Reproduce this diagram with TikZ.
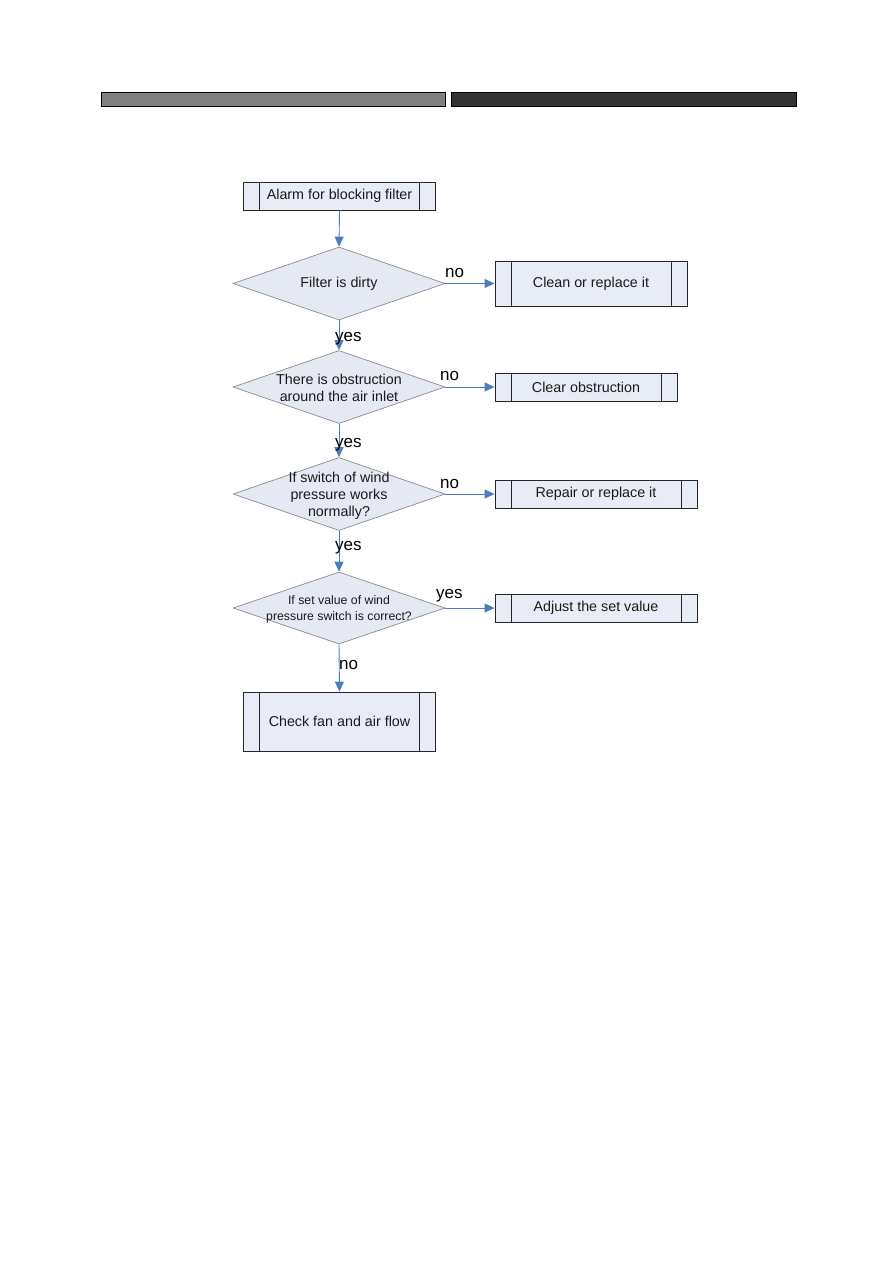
\documentclass[tikz,border=0pt]{standalone}
\usepackage{fontspec}
\setmainfont{Liberation Sans}
\usetikzlibrary{shapes.geometric,arrows.meta}
\definecolor{boxfill}{HTML}{E8ECF7}
\definecolor{dfill}{HTML}{E4E9F4}
\definecolor{conn}{HTML}{4A7EBB}
\definecolor{txt}{HTML}{1A1A1A}
\definecolor{bar1}{HTML}{808080}
\definecolor{bar2}{HTML}{333333}
\tikzset{
  procbox/.style={draw=black!85, line width=0.8pt, fill=boxfill, rectangle, inner sep=0pt,
    font=\fontsize{14.3}{17}\selectfont, text=txt,
    path picture={
      \draw[black!85, line width=0.8pt] ([xshift=16pt]path picture bounding box.north west) -- ([xshift=16pt]path picture bounding box.south west);
      \draw[black!85, line width=0.8pt] ([xshift=-16pt]path picture bounding box.north east) -- ([xshift=-16pt]path picture bounding box.south east);
    }},
  decision/.style={draw=black!45, line width=0.7pt, fill=dfill, diamond, inner sep=0pt},
  dtext/.style={font=\fontsize{14.3}{17}\selectfont, text=txt, align=center, inner sep=0pt},
  lab/.style={font=\fontsize{17}{20}\selectfont, text=black, anchor=base west, inner sep=0pt},
  conn/.style={draw=conn, line width=0.9pt, -{Triangle[length=10pt,width=9pt]}},
  bar/.style={draw=black, line width=1pt}
}
\begin{document}
\begin{tikzpicture}[x=1pt,y=-1pt]
\path[use as bounding box] (0,0) rectangle (893,1263);
% header bars
\node[bar, fill=bar1, minimum width=344pt, minimum height=14pt, inner sep=0pt] (hb1) at (273,99) {};
\node[bar, fill=bar2, minimum width=345pt, minimum height=14pt, inner sep=0pt] (hb2) at (623.5,99) {};
% boxes
\node[procbox, minimum width=192pt, minimum height=28pt] (a) at (339.5,196) {Alarm for blocking filter};
\node[procbox, minimum width=192pt, minimum height=45pt] (b1) at (591,283.5) {Clean or replace it};
\node[procbox, minimum width=182pt, minimum height=28pt] (b2) at (586,387) {Clear obstruction};
\node[procbox, minimum width=202pt, minimum height=28pt] (b3) at (596,494) {Repair or replace it};
\node[procbox, minimum width=202pt, minimum height=28pt] (b4) at (596,608) {Adjust the set value};
\node[procbox, minimum width=192pt, minimum height=59pt] (e) at (339.5,721.5) {Check fan and air flow};
% decisions
\node[decision, minimum width=212pt, minimum height=73pt] (d1) at (339,283.5) {};
\node[decision, minimum width=212pt, minimum height=73pt] (d2) at (339,387) {};
\node[decision, minimum width=212pt, minimum height=73pt] (d3) at (339,494) {};
\node[decision, minimum width=212pt, minimum height=72pt] (d4) at (339,608) {};
\node[dtext] (t1) at (d1) {Filter is dirty};
\node[dtext] (t2) at (339,388) {There is obstruction\\around the air inlet};
\node[dtext] (t3) at (339,495.5) {If switch of wind\\pressure works\\normally?};
\node[dtext, font=\fontsize{12.3}{15.5}\selectfont] (t4) at (339,609.5) {If set value of wind\\pressure switch is correct?};
% connectors
\draw[conn] (a.south) -- (d1.north);
\draw[conn] (d1.south) -- (d2.north);
\draw[conn] (d2.south) -- (d3.north);
\draw[conn] (d3.south) -- (d4.north);
\draw[conn] (d4.south) -- (e.north);
\draw[conn] (d1.east) -- (b1.west);
\draw[conn] (d2.east) -- (b2.west);
\draw[conn] (d3.east) -- (b3.west);
\draw[conn] (d4.east) -- (b4.west);
% labels
\node[lab] (l1) at (445,277) {no};
\node[lab] (l2) at (335,341) {yes};
\node[lab] (l3) at (440,380) {no};
\node[lab] (l4) at (335,447) {yes};
\node[lab] (l5) at (440,488) {no};
\node[lab] (l6) at (335,550) {yes};
\node[lab] (l7) at (436,598) {yes};
\node[lab] (l8) at (339,669) {no};
\end{tikzpicture}
\end{document}
